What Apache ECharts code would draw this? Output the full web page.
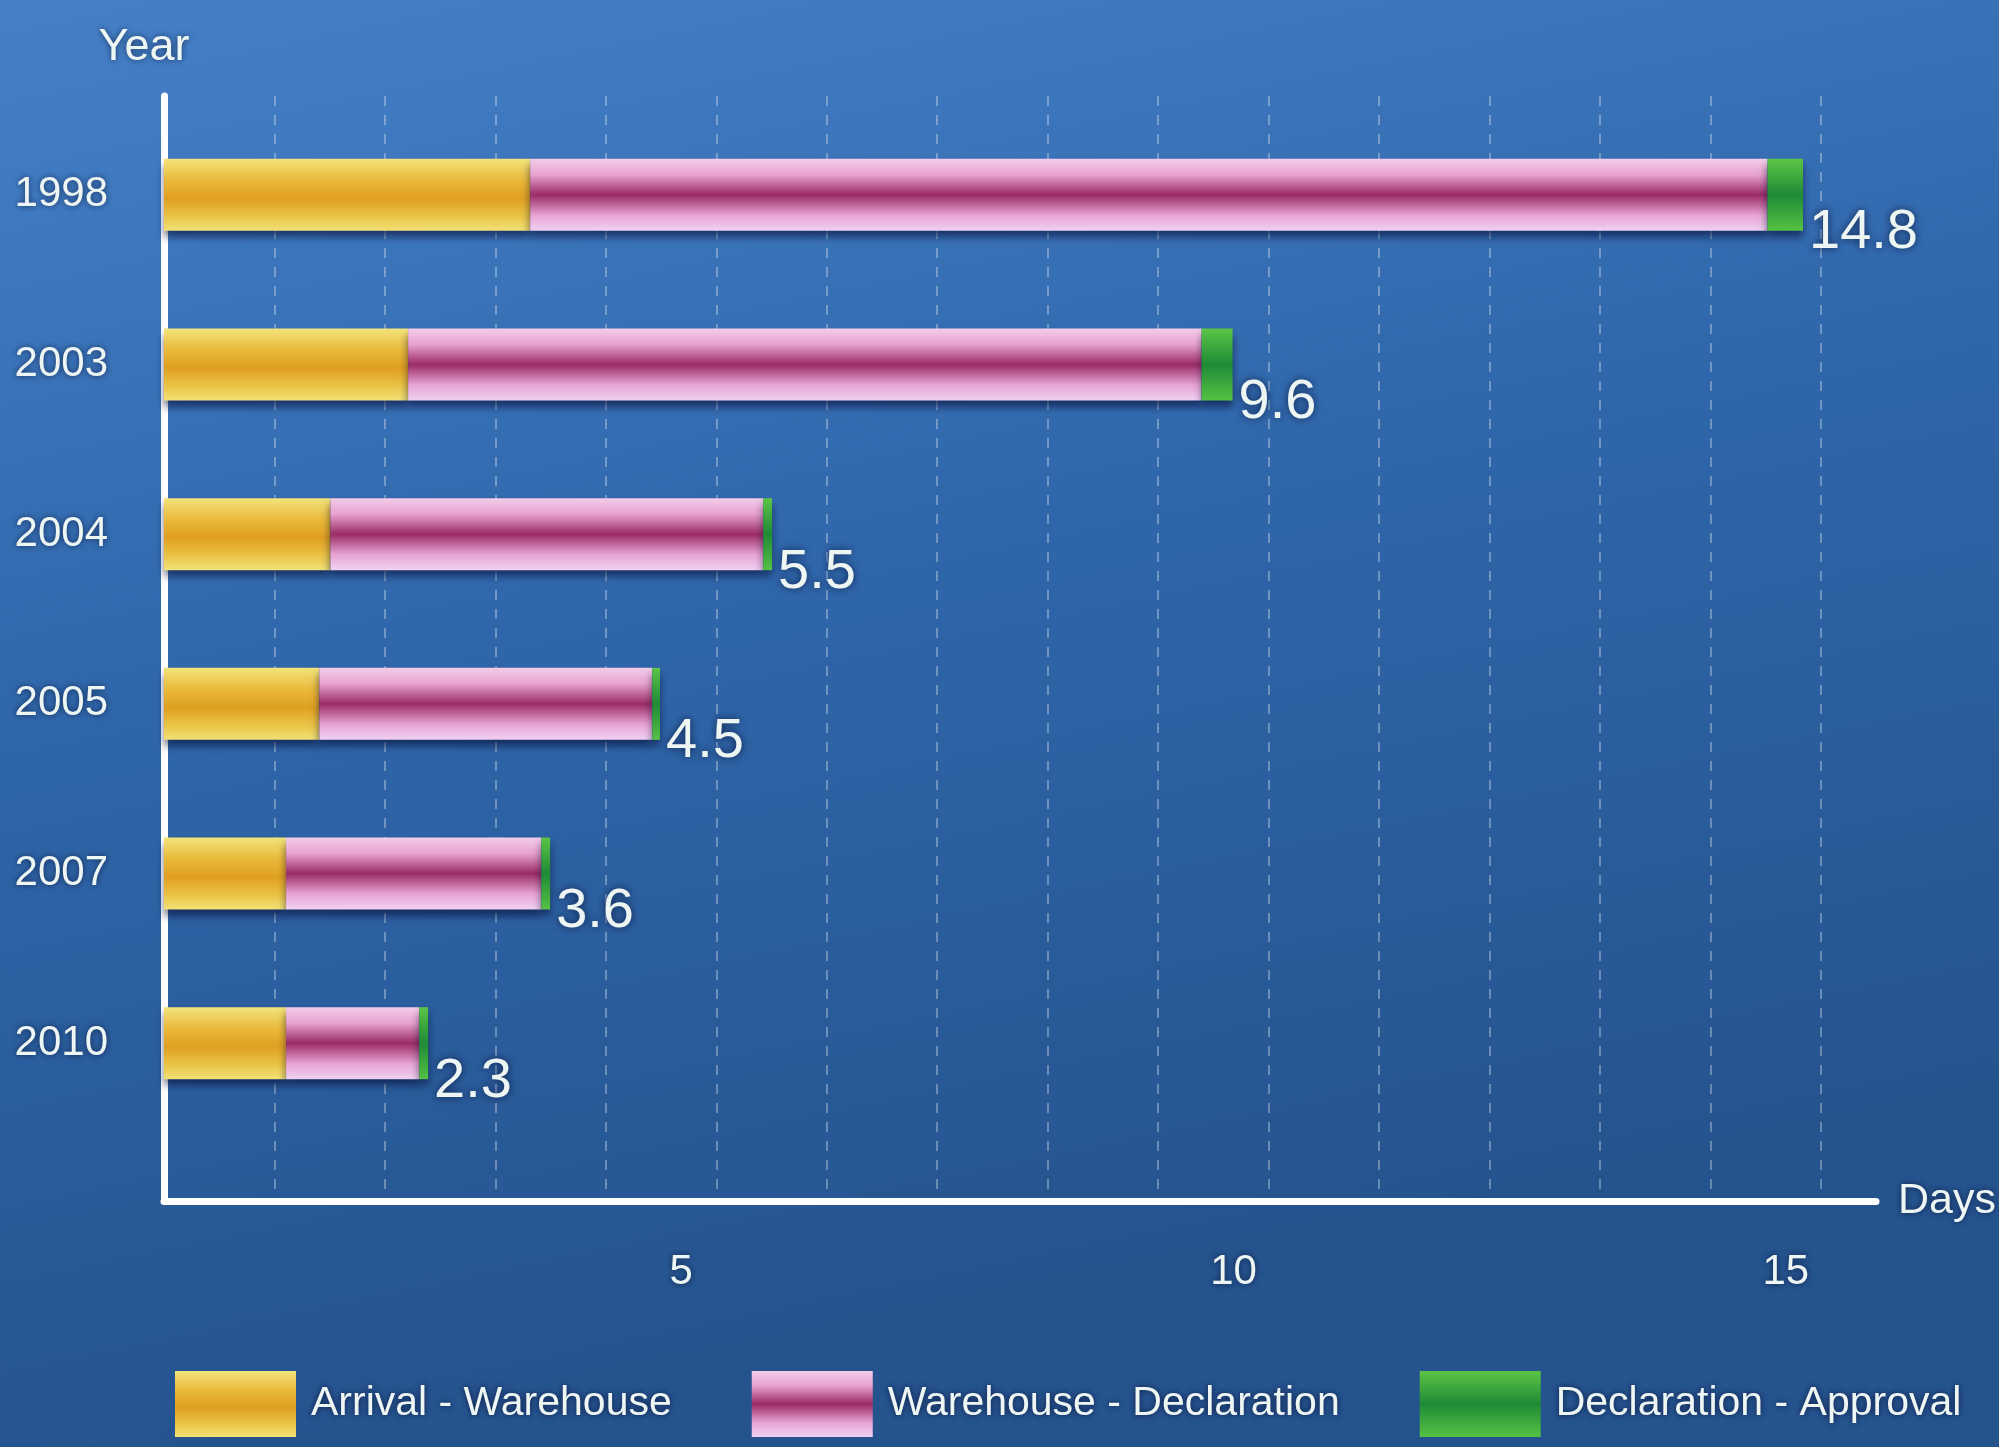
<!DOCTYPE html>
<html>
<head>
<meta charset="utf-8">
<script src="https://cdn.jsdelivr.net/npm/echarts@6/dist/echarts.min.js"></script>
<style>
html,body{margin:0;padding:0;width:1999px;height:1447px;overflow:hidden;}
#chart{width:1999px;height:1447px;}
</style>
</head>
<body>
<div id="chart"></div>
<script>
const years = ['1998', '2003', '2004', '2005', '2007', '2010'];
const arrivalWarehouse = [3.3, 2.2, 1.5, 1.4, 1.1, 1.1];
const warehouseDeclaration = [11.15, 7.15, 3.9, 3.0, 2.3, 1.2];
const declarationApproval = [0.32, 0.28, 0.08, 0.07, 0.08, 0.08];
const totalLabels = ['14.8', '9.6', '5.5', '4.5', '3.6', '2.3'];
const xTicks = [5, 10, 15];

const FONT = '"Liberation Sans Narrow", "Liberation Sans", sans-serif';
const TXT = '#eef6f4';

function grad(stops) {
  return new echarts.graphic.LinearGradient(0, 0, 0, 1, stops.map(c => ({ offset: c[0], color: c[1] })));
}
const yellow = grad([[0, '#f3e47c'], [0.3, '#e9b93a'], [0.55, '#e09f20'], [0.8, '#eac447'], [1, '#f2e276']]);
const pink = grad([[0, '#f3cdea'], [0.22, '#e8a2cf'], [0.5, '#9a2c66'], [0.78, '#e6a2d2'], [1, '#f1d2f2']]);
const green = grad([[0, '#5cc546'], [0.5, '#1f8a36'], [1, '#56c244']]);

const chart = echarts.init(document.getElementById('chart'));
const barW = 72;
const shadow = { shadowColor: 'rgba(0,0,40,0.55)', shadowBlur: 8, shadowOffsetY: 6 };
const tShadow = { textShadowColor: 'rgba(0,0,30,0.6)', textShadowBlur: 6 };

chart.setOption({
  backgroundColor: new echarts.graphic.LinearGradient(0, 0, 0.15, 1, [
    { offset: 0, color: '#4580c7' },
    { offset: 0.5, color: '#2f66aa' },
    { offset: 1, color: '#25538e' }
  ]),
  animation: false,
  textStyle: { fontFamily: FONT },
  grid: [
    { left: 164, right: 115, top: 96, bottom: 246 },
    { left: 164, right: 115, top: 110, bottom: 319 }
  ],
  xAxis: [
    {
      gridIndex: 0, type: 'value', min: 0, max: 15.5, interval: 1,
      name: 'Days', nameLocation: 'end', nameGap: 22,
      nameTextStyle: Object.assign({ color: TXT, fontSize: 43, fontFamily: FONT, padding: [30, 0, 0, 0] }, tShadow),
      axisLine: { show: true, lineStyle: { color: '#ffffff', width: 7 } },
      axisTick: { show: false },
      axisLabel: Object.assign({
        color: TXT, fontSize: 42, fontFamily: FONT, margin: 50,
        padding: [0, 70, 0, 0],
        formatter: v => (xTicks.indexOf(v) >= 0 ? String(v) : '')
      }, tShadow),
      splitLine: { show: true, showMinLine: false, showMaxLine: false,
        lineStyle: { color: 'rgba(255,255,255,0.42)', width: 1.5, type: [10, 9] } }
    },
    { gridIndex: 1, type: 'value', min: 0, max: 15.5, show: false }
  ],
  yAxis: [
    {
      gridIndex: 0, type: 'value', min: 0, max: 1,
      name: 'Year', nameLocation: 'end', nameGap: 26,
      nameTextStyle: Object.assign({ color: TXT, fontSize: 45, fontFamily: FONT, padding: [0, 40, 0, 0] }, tShadow),
      axisLine: { show: true, lineStyle: { color: '#ffffff', width: 7 } },
      axisTick: { show: false }, axisLabel: { show: false }, splitLine: { show: false }
    },
    {
      gridIndex: 1, type: 'category', data: years, inverse: true,
      axisLine: { show: false }, axisTick: { show: false }, splitLine: { show: false },
      axisLabel: Object.assign({ color: TXT, fontSize: 42, fontFamily: FONT, margin: 56 }, tShadow)
    }
  ],
  legend: {
    left: 170, top: 1366, itemWidth: 121, itemHeight: 66, itemGap: 80,
    icon: 'rect',
    textStyle: { color: TXT, fontSize: 41, fontFamily: FONT, padding: [8, 0, 0, 10],
      textShadowColor: 'rgba(0,0,30,0.7)', textShadowBlur: 6 },
    data: ['Arrival - Warehouse', 'Warehouse - Declaration', 'Declaration - Approval']
  },
  series: [
    { name: 'Arrival - Warehouse', type: 'bar', stack: 'days', xAxisIndex: 1, yAxisIndex: 1,
      barWidth: barW, data: arrivalWarehouse, itemStyle: Object.assign({ color: yellow }, shadow) },
    { name: 'Warehouse - Declaration', type: 'bar', stack: 'days', xAxisIndex: 1, yAxisIndex: 1,
      barWidth: barW, data: warehouseDeclaration, itemStyle: Object.assign({ color: pink }, shadow) },
    { name: 'Declaration - Approval', type: 'bar', stack: 'days', xAxisIndex: 1, yAxisIndex: 1,
      barWidth: barW, data: declarationApproval, itemStyle: Object.assign({ color: green }, shadow),
      label: {
        show: true, position: 'right', distance: 6, offset: [0, 38],
        color: TXT, fontSize: 56, fontFamily: FONT,
        textShadowColor: 'rgba(0,0,30,0.7)', textShadowBlur: 8,
        formatter: p => totalLabels[p.dataIndex]
      } }
  ]
});
</script>
</body>
</html>
